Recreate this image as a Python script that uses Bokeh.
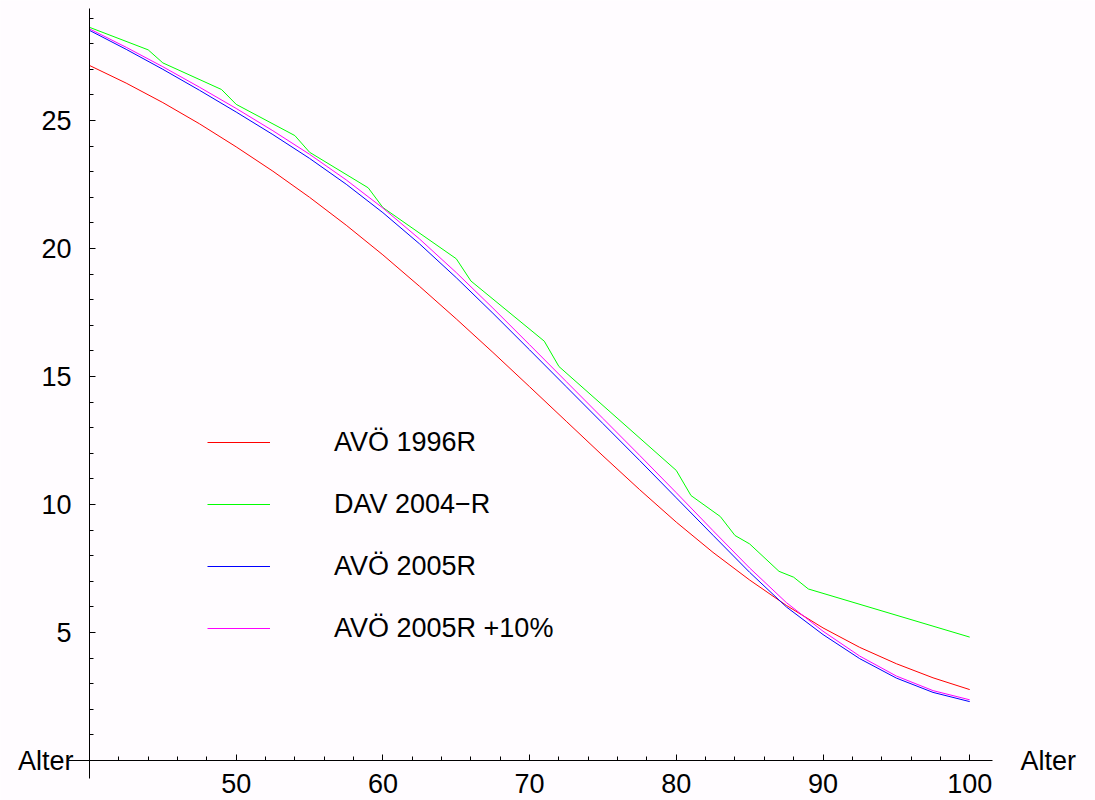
from bokeh.plotting import figure
from bokeh.models import Range1d, LinearAxis, FixedTicker, Legend, LegendItem, Label
from bokeh.embed import file_html
from bokeh.resources import INLINE

# ---- data ----
ages = [40, 42.5, 45, 47.5, 50, 52.5, 55, 57.5, 60, 62.5, 65, 67.5, 70,
        72.5, 75, 77.5, 80, 82.5, 85, 87.5, 90, 92.5, 95, 97.5, 100]
avoe_1996r = [27.15, 26.46, 25.70, 24.87, 23.97, 23.02, 22.00, 20.91, 19.75, 18.52,
              17.25, 15.94, 14.60, 13.25, 11.90, 10.58, 9.31, 8.13, 7.05, 6.06,
              5.18, 4.42, 3.78, 3.23, 2.77]
avoe_2005r = [28.52, 27.78, 27.00, 26.18, 25.33, 24.45, 23.52, 22.51, 21.40, 20.18,
              18.86, 17.47, 16.04, 14.60, 13.16, 11.72, 10.26, 8.80, 7.35, 6.00,
              4.92, 3.98, 3.22, 2.66, 2.30]
avoe_2005r_10 = [28.58, 27.86, 27.10, 26.30, 25.47, 24.60, 23.68, 22.68, 21.58, 20.37,
                 19.06, 17.67, 16.24, 14.80, 13.36, 11.92, 10.46, 8.98, 7.52, 6.17,
                 5.05, 4.08, 3.30, 2.73, 2.37]
dav_ages = [40, 44, 45, 49, 50, 54, 55, 59, 60, 65, 66, 71, 72, 80, 81, 83, 84, 85,
            87, 88, 89, 100]
dav_2004r = [28.64, 27.76, 27.25, 26.21, 25.63, 24.41, 23.76, 22.37, 21.6, 19.6,
             18.73, 16.38, 15.39, 11.33, 10.35, 9.53, 8.79, 8.46, 7.39, 7.16, 6.7, 4.82]

x_major = [50, 60, 70, 80, 90, 100]
x_minor = list(range(42, 101, 2))
y_major = [5, 10, 15, 20, 25]
y_minor = list(range(1, 30))

labels = ["AVÖ 1996R", "DAV 2004\u2212R", "AVÖ 2005R", "AVÖ 2005R +10%"]
colors = ["#ff0000", "#00ff00", "#0000ff", "#ff00ff"]
axis_name = "Alter"

FONT = "Liberation Sans"
FS = "27px"
BG = "#fffcff"

p = figure(width=1095, height=800,
           x_range=Range1d(33.933, 108.575), y_range=Range1d(-1.5625, 29.6875),
           x_axis_location=None, y_axis_location=None,
           toolbar_location=None, output_backend="svg", min_border=0,
           background_fill_color=BG, border_fill_color=BG)
p.outline_line_color = None
p.xgrid.visible = False
p.ygrid.visible = False

xaxis = LinearAxis(fixed_location=0, bounds=(38.57, 101.55),
                   ticker=FixedTicker(ticks=x_major, minor_ticks=x_minor))
yaxis = LinearAxis(fixed_location=40, bounds=(-0.7, 29.37),
                   ticker=FixedTicker(ticks=y_major, minor_ticks=y_minor))
for ax in (xaxis, yaxis):
    ax.axis_line_color = "black"
    ax.axis_line_width = 1
    ax.major_tick_in = 6
    ax.major_tick_out = 0
    ax.minor_tick_in = 4
    ax.minor_tick_out = 0
    ax.major_tick_line_color = "black"
    ax.minor_tick_line_color = "black"
    ax.major_label_text_font = FONT
    ax.major_label_text_font_size = FS
    ax.major_label_text_color = "black"
xaxis.major_label_standoff = 13
yaxis.major_label_standoff = 18
p.add_layout(xaxis, "below")
p.add_layout(yaxis, "left")

r1 = p.line(ages, avoe_1996r, line_color=colors[0], line_width=1)
r2 = p.line(dav_ages, dav_2004r, line_color=colors[1], line_width=1)
r3 = p.line(ages, avoe_2005r, line_color=colors[2], line_width=1)
r4 = p.line(ages, avoe_2005r_10, line_color=colors[3], line_width=1)

legend = Legend(items=[LegendItem(label=l, renderers=[r]) for l, r in zip(labels, [r1, r2, r3, r4])],
                location=(207, 152), orientation="vertical",
                glyph_width=63, glyph_height=40, label_height=40, spacing=22,
                label_standoff=64, padding=0, margin=0,
                border_line_alpha=0, background_fill_alpha=0,
                label_text_font=FONT, label_text_font_size=FS, label_text_color="black")
p.add_layout(legend, "center")

p.add_layout(Label(x=38.91, y=0, text=axis_name, text_align="right", text_baseline="middle",
                   text_font=FONT, text_font_size=FS, text_color="black"))
p.add_layout(Label(x=103.46, y=0, text=axis_name, text_align="left", text_baseline="middle",
                   text_font=FONT, text_font_size=FS, text_color="black"))

open("out.html", "w").write(file_html(p, INLINE))
